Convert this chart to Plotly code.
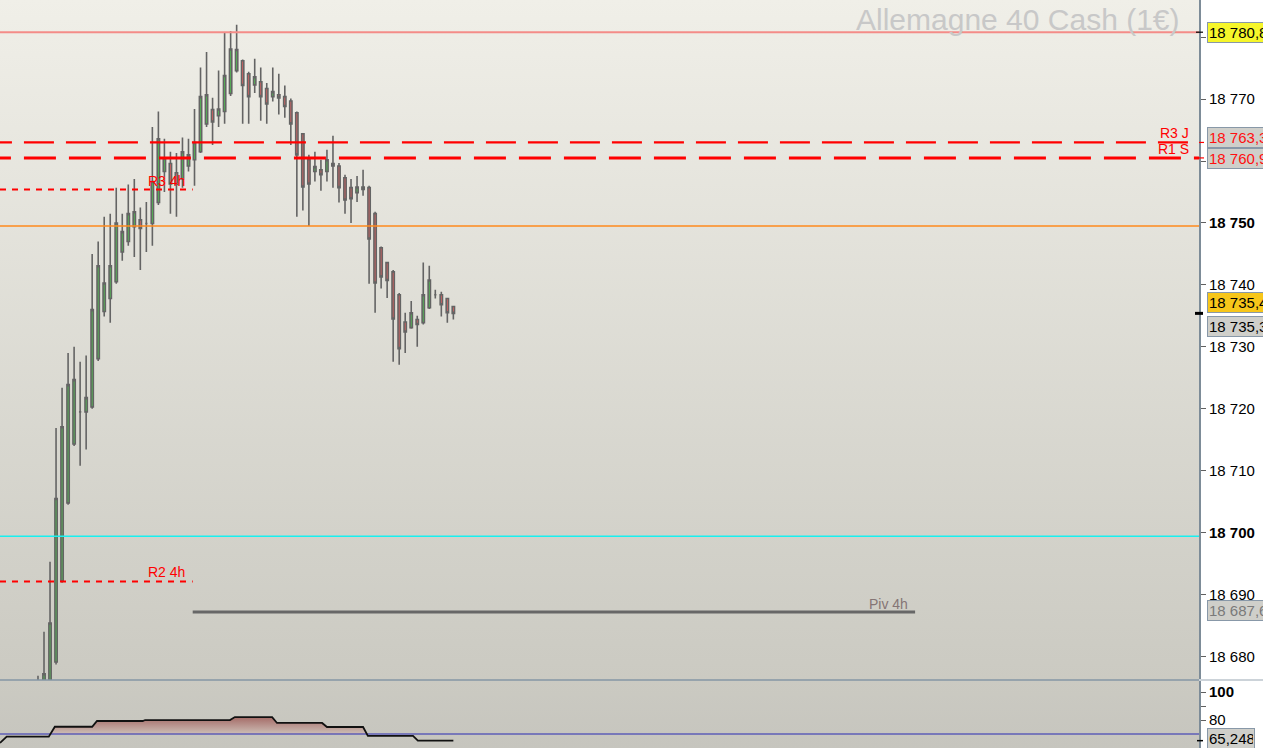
import base64
import plotly.graph_objects as go

# ---------------- data (2-min candles) ----------------
candle_idx = list(range(70))
opens = [18674.0, 18671.0, 18675.0, 18679.1, 18692.2, 18704.8, 18714.3, 18719.5, 18719.5, 18720.3,
         18728.1, 18735.7, 18737.8, 18740.5, 18745.3, 18747.0, 18749.4, 18750.5, 18749.9, 18749.9,
         18753.3, 18758.3, 18759.6, 18758.1, 18757.1, 18759.2, 18760.2, 18761.5, 18766.0, 18768.3,
         18767.3, 18768.0, 18770.9, 18774.6, 18776.2, 18774.1, 18772.3, 18772.8, 18771.7, 18770.4,
         18770.7, 18770.4, 18769.7, 18767.8, 18764.4, 18760.2, 18758.3, 18758.6, 18758.3, 18759.2,
         18759.2, 18757.3, 18755.7, 18754.9, 18755.4, 18755.7, 18751.5, 18746.0, 18743.6, 18742.1,
         18738.4, 18734.0, 18733.1, 18734.4, 18733.9, 18736.3, 18738.4, 18738.4, 18737.8, 18736.5]
highs = [18676.9, 18684.0, 18695.3, 18716.9, 18723.4, 18729.0, 18730.0, 18727.6, 18728.6, 18745.0,
         18747.0, 18751.0, 18751.5, 18755.7, 18751.5, 18756.2, 18757.1, 18752.5, 18753.4, 18765.5,
         18768.0, 18763.6, 18761.5, 18761.3, 18763.8, 18763.6, 18768.4, 18775.1, 18777.6, 18770.2,
         18774.6, 18780.7, 18781.0, 18782.0, 18776.4, 18774.4, 18776.5, 18775.1, 18772.6, 18775.1,
         18774.1, 18772.2, 18770.1, 18768.0, 18764.5, 18761.0, 18761.5, 18760.2, 18761.8, 18764.1,
         18759.7, 18757.8, 18757.1, 18757.6, 18758.6, 18756.0, 18751.8, 18746.2, 18743.7, 18742.4,
         18738.7, 18735.5, 18737.4, 18735.0, 18743.6, 18743.1, 18739.2, 18738.9, 18737.9, 18736.6]
lows = [18672.5, 18669.5, 18674.0, 18678.7, 18691.9, 18704.5, 18714.0, 18710.8, 18713.4, 18720.0,
        18727.7, 18734.9, 18733.9, 18740.2, 18743.9, 18746.3, 18744.5, 18742.4, 18745.3, 18746.3,
        18752.9, 18755.0, 18751.5, 18751.0, 18755.7, 18758.3, 18756.0, 18761.3, 18765.5, 18762.6,
        18765.5, 18766.0, 18770.5, 18774.3, 18766.0, 18766.0, 18771.0, 18766.5, 18766.0, 18769.6,
        18767.5, 18767.0, 18762.6, 18751.0, 18752.0, 18749.5, 18756.7, 18755.2, 18756.7, 18755.7,
        18753.3, 18751.5, 18750.0, 18753.4, 18754.4, 18740.2, 18735.5, 18739.4, 18737.9, 18727.6,
        18727.1, 18729.0, 18732.9, 18730.0, 18733.6, 18736.1, 18737.8, 18734.9, 18733.9, 18734.4]
closes = [18675.0, 18677.2, 18685.4, 18705.5, 18717.1, 18723.9, 18724.7, 18719.5, 18721.8, 18736.0,
          18743.1, 18740.3, 18743.1, 18750.0, 18748.6, 18751.5, 18751.8, 18749.1, 18749.9, 18756.7,
          18763.6, 18760.5, 18756.3, 18756.2, 18761.5, 18761.0, 18763.0, 18770.4, 18770.7, 18766.3,
          18768.4, 18773.8, 18778.1, 18778.0, 18772.2, 18770.4, 18773.6, 18770.4, 18769.2, 18771.2,
          18770.2, 18768.8, 18766.0, 18761.0, 18755.8, 18756.3, 18759.1, 18757.8, 18760.2, 18759.6,
          18755.7, 18753.7, 18753.9, 18755.8, 18755.8, 18747.4, 18740.3, 18741.3, 18740.7, 18734.5,
          18729.7, 18732.4, 18735.5, 18733.6, 18738.4, 18740.8, 18738.4, 18736.8, 18735.5, 18735.4]

# indicator (step-like line, x in candle units)
ind_x = [-6.3, -5.2, 1.8, 2.8, 9.0, 9.8, 17.4, 17.8, 31.9, 32.7, 38.9, 39.7, 47.2, 48.0, 54.0, 54.8, 62.3, 63.1, 69.0]
ind_v = [63.6, 68.1, 68.1, 75.2, 75.2, 79.3, 79.3, 80.0, 80.0, 82.1, 82.1, 77.9, 77.9, 75.0, 75.0, 68.6, 68.6, 65.248, 65.248]
ind_level = 70

# levels
lvl_high = 18780.8
lvl_r3j = 18763.0
lvl_r1s = 18760.5
lvl_r3_4h = 18755.4
lvl_orange = 18749.5
lvl_cyan = 18699.4
lvl_r2_4h = 18692.1
lvl_piv_4h = 18687.2
last_price = 18735.4
period_start = 25.7
period_end = 145.7

tick_vals = [18680, 18690, 18700, 18710, 18720, 18730, 18740, 18750, 18760, 18770, 18780]
tick_text = ["18 680", "18 690", "<b>18 700</b>", "18 710", "18 720", "18 730", "18 740",
             "<b>18 750</b>", "", "18 770", ""]

# ---------------- figure ----------------
W, H = 1263, 748
AX_X = 1199


def pp(px):
    """pixel x -> paper x (paper spans the plot area 0..AX_X)"""
    return px / AX_X


FONT = "Liberation Sans, Arial, sans-serif"
MAIN_DOM = [68 / H, 1.0]
IND_DOM = [0.0, 67 / H]
XR = [-6.31, 192.86]
YR = [18676.2, 18786.0]
Y2R = [60, 107.9]

fig = go.Figure()

fig.add_trace(go.Candlestick(
    x=candle_idx, open=opens, high=highs, low=lows, close=closes,
    increasing=dict(line=dict(color="#646464", width=1.6), fillcolor="#52c452"),
    decreasing=dict(line=dict(color="#646464", width=1.6), fillcolor="#e26262"),
    whiskerwidth=0, showlegend=False, hoverinfo="skip", xaxis="x", yaxis="y"))

# indicator fill above level
fx, fy = [], []
for i in range(len(ind_x) - 1):
    x0, y0, x1, y1 = ind_x[i], ind_v[i], ind_x[i + 1], ind_v[i + 1]
    fx.append(x0); fy.append(max(y0, ind_level))
    if (y0 - ind_level) * (y1 - ind_level) < 0:
        t = (ind_level - y0) / (y1 - y0)
        fx.append(x0 + t * (x1 - x0)); fy.append(ind_level)
fx.append(ind_x[-1]); fy.append(max(ind_v[-1], ind_level))

fig.add_trace(go.Scatter(x=fx, y=[ind_level] * len(fx), mode="lines", line=dict(width=0),
                         showlegend=False, hoverinfo="skip", xaxis="x", yaxis="y2"))
fig.add_trace(go.Scatter(x=fx, y=fy, mode="lines", line=dict(width=0), fill="tonexty",
                         fillcolor="rgba(175,125,120,0.8)",
                         fillgradient=dict(type="vertical",
                                           colorscale=[[0, "rgb(205,190,182)"], [1, "rgb(165,108,104)"]]),
                         showlegend=False, hoverinfo="skip", xaxis="x", yaxis="y2"))
fig.add_trace(go.Scatter(x=[XR[0] - 1, XR[1] + 1], y=[ind_level, ind_level], mode="lines",
                         line=dict(color="#2a2ab4", width=1.2),
                         showlegend=False, hoverinfo="skip", xaxis="x", yaxis="y2"))
fig.add_trace(go.Scatter(x=ind_x, y=ind_v, mode="lines", line=dict(color="#111111", width=1.8),
                         showlegend=False, hoverinfo="skip", xaxis="x", yaxis="y2"))

# ---------------- shapes ----------------
shapes = []


def hline(y, color, width, dash="solid", x0=None, x1=None):
    if x0 is None:
        shapes.append(dict(type="line", xref="x domain", x0=0, x1=1, yref="y", y0=y, y1=y,
                           line=dict(color=color, width=width, dash=dash), layer="above"))
    else:
        shapes.append(dict(type="line", xref="x", x0=x0, x1=x1, yref="y", y0=y, y1=y,
                           line=dict(color=color, width=width, dash=dash), layer="above"))


hline(lvl_high, "#f48c88", 2)
hline(lvl_orange, "#ff8a1c", 1.5)
hline(lvl_cyan, "#18f0f0", 1.5)
hline(lvl_r3j, "#ff0000", 2.2, "30px,12px", x0=XR[0] - 3.0, x1=XR[1] + 1)
hline(lvl_r1s, "#ff0000", 3, "32px,13px", x0=XR[0] - 3.5, x1=XR[1] + 1)
hline(lvl_r3_4h, "#ff0000", 2, "6px,6px", x0=XR[0], x1=period_start)
hline(lvl_r2_4h, "#ff0000", 2, "6px,6px", x0=XR[0], x1=period_start)
hline(lvl_piv_4h, "#676767", 3, x0=period_start, x1=period_end)

# separator between panes
shapes.append(dict(type="line", xref="paper", x0=0, x1=1, yref="paper", y0=MAIN_DOM[0], y1=MAIN_DOM[0],
                   line=dict(color="#8496a4", width=1.5), layer="above"))
shapes.append(dict(type="line", xref="paper", x0=1, x1=pp(W), yref="paper", y0=MAIN_DOM[0], y1=MAIN_DOM[0],
                   line=dict(color="#ccd3d9", width=2), layer="above"))


# small markers on the axis
def axmark(y, yref, color, width, l=5, left=0):
    shapes.append(dict(type="line", xref="paper", x0=pp(AX_X - left), x1=pp(AX_X + l),
                       yref=yref, y0=y, y1=y, line=dict(color=color, width=width), layer="above"))


axmark(lvl_r3j, "y", "#ff0000", 1.2)
axmark(lvl_r1s, "y", "#ff0000", 1.2)
axmark(last_price, "y", "#000000", 3, l=4, left=4)
axmark(lvl_high, "y", "#000000", 1.2, l=4, left=3)
axmark(ind_v[-1], "y2", "#000000", 1.5, l=4, left=2)

# ---------------- background gradient (image) ----------------
svg = ('<svg xmlns="http://www.w3.org/2000/svg" width="20" height="748" viewBox="0 0 20 748" '
       'preserveAspectRatio="none"><defs><linearGradient id="g" x1="0" y1="0" x2="0" y2="1">'
       '<stop offset="0" stop-color="#f0efe8"/><stop offset="0.909" stop-color="#cbcac2"/>'
       '<stop offset="1" stop-color="#c6c5be"/></linearGradient></defs>'
       '<rect x="0" y="0" width="20" height="748" fill="url(#g)"/></svg>')
src = "data:image/svg+xml;base64," + base64.b64encode(svg.encode()).decode()

# ---------------- annotations ----------------
ann = []
ann.append(dict(text="Allemagne 40 Cash (1€)", xref="paper", yref="paper", x=pp(1182), y=1 - 20 / H,
                xanchor="right", yanchor="middle", showarrow=False,
                font=dict(family=FONT, size=30, color="#c8c8c8")))


def lab(text, x, y, color, xref="x", yref="y", size=14):
    ann.append(dict(text=text, x=x, y=y, xref=xref, yref=yref, xanchor="right", yanchor="middle",
                    showarrow=False, font=dict(family=FONT, size=size, color=color)))


lab("R3 J", pp(1191), 18764.5, "#ff0000", xref="paper")
lab("R1 S", pp(1191), 18762.0, "#ff0000", xref="paper")
lab("R3 4h", period_start - 1.0, 18756.8, "#ff0000")
lab("R2 4h", period_start - 1.0, 18693.6, "#ff0000")
lab("Piv 4h", period_end - 0.8, 18688.5, "#857575")


def box(text, y, bg, fg, yref="y", width=62):
    ann.append(dict(text=text, xref="paper", x=pp(1207), xanchor="left", yref=yref, y=y, yanchor="middle",
                    showarrow=False, align="left", width=width, bgcolor=bg, bordercolor="#8898a8",
                    borderwidth=1, borderpad=1, font=dict(family=FONT, size=15, color=fg)))


box("18 780,8", 18780.8, "#f6f62a", "#000000")
box("18 763,3", 18763.8, "#cfcfca", "#ff1010")
box("18 760,9", 18760.4, "#cfcfca", "#ff1010")
box("18 735,4", 18737.2, "#f7c61a", "#000000")
box("18 735,3", 18733.3, "#cfcfca", "#000000")
box("18 687,6", 18687.5, "#cfcfca", "#7a7a7a")
box("65,248", 67.1, "#cfcfca", "#000000", yref="y2", width=44)

fig.update_layout(
    width=W, height=H, margin=dict(l=0, r=W - AX_X, t=0, b=0),
    paper_bgcolor="#ffffff", plot_bgcolor="rgba(0,0,0,0)",
    boxgap=0.45, showlegend=False, separators=", ",
    images=[dict(source=src, xref="paper", yref="paper", x=0, y=1, sizex=1, sizey=1,
                 xanchor="left", yanchor="top", sizing="stretch", layer="below")],
    xaxis=dict(range=XR, showgrid=False, zeroline=False, showticklabels=False, showline=False,
               ticks="", rangeslider=dict(visible=False), fixedrange=True, anchor="y"),
    yaxis=dict(domain=MAIN_DOM, range=YR, side="right", showgrid=False, zeroline=False,
               showline=True, linecolor="#7d8c98", linewidth=2, ticks="outside", ticklen=5,
               tickcolor="#606060", tickwidth=1, tickvals=tick_vals, ticktext=tick_text,
               tickfont=dict(family=FONT, size=15, color="#000000"), anchor="x", fixedrange=True),
    yaxis2=dict(domain=IND_DOM, range=Y2R, side="right", showgrid=False, zeroline=False,
                showline=True, linecolor="#7d8c98", linewidth=2, ticks="outside", ticklen=5,
                tickcolor="#606060", tickwidth=1, tickvals=[60, 80, 90, 100],
                ticktext=["", "80", "", "<b>100</b>"],
                tickfont=dict(family=FONT, size=15, color="#000000"), anchor="x", fixedrange=True),
    shapes=shapes, annotations=ann,
)

fig.write_html("out.html", config={"displayModeBar": False},
               post_script="document.body.style.margin='0px';document.body.style.overflow='hidden';")
